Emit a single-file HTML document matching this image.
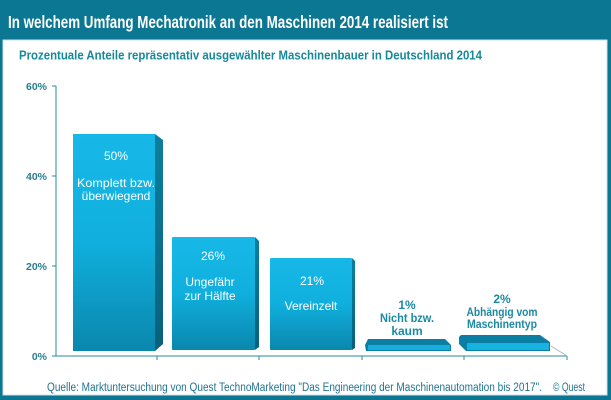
<!DOCTYPE html>
<html><head><meta charset="utf-8"><style>
html,body{margin:0;padding:0;background:#fff}
svg{display:block}
text{font-family:"Liberation Sans",sans-serif}
</style></head><body>
<svg width="611" height="400" viewBox="0 0 611 400" xmlns="http://www.w3.org/2000/svg">
<defs>
<linearGradient id="g1" x1="0" y1="0" x2="0" y2="1">
<stop offset="0" stop-color="#17b8e8"/>
<stop offset="0.5" stop-color="#10afdd"/>
<stop offset="1" stop-color="#0a87ad"/>
</linearGradient>
<linearGradient id="gs" x1="0" y1="0" x2="0" y2="1">
<stop offset="0" stop-color="#0c7f9e"/>
<stop offset="1" stop-color="#09607a"/>
</linearGradient>
</defs>
<rect x="0" y="0" width="611" height="400" fill="#0b7793"/>
<rect x="3" y="40" width="604" height="355" fill="#ffffff" stroke="#cfdfe4" stroke-width="1"/>
<text x="8" y="28" font-size="17.5" font-weight="bold" fill="#ffffff" textLength="440" lengthAdjust="spacingAndGlyphs">In welchem Umfang Mechatronik an den Maschinen 2014 realisiert ist</text>
<text x="19" y="59.5" font-size="13.3" font-weight="bold" fill="#17899b" textLength="463" lengthAdjust="spacingAndGlyphs">Prozentuale Anteile repräsentativ ausgewählter Maschinenbauer in Deutschland  2014</text>

<!-- axes -->
<g stroke="#2a8aa0" stroke-width="1">
<line x1="56" y1="86" x2="56" y2="356"/>
<line x1="56" y1="356" x2="567" y2="356"/>
<line x1="52" y1="86" x2="56" y2="86"/>
<line x1="52" y1="176" x2="56" y2="176"/>
<line x1="52" y1="266" x2="56" y2="266"/>
<line x1="52" y1="356" x2="56" y2="356"/>
<line x1="157" y1="356" x2="157" y2="360"/>
<line x1="259" y1="356" x2="259" y2="360"/>
<line x1="362" y1="356" x2="362" y2="360"/>
<line x1="464" y1="356" x2="464" y2="360"/>
<line x1="567" y1="356" x2="567" y2="360"/>
</g>
<line x1="551" y1="346" x2="567" y2="356" stroke="#a8b4b8" stroke-width="0.8"/>
<g font-size="10.5" fill="#2a7d90" text-anchor="end" font-weight="bold">
<text x="47" y="90">60%</text>
<text x="47" y="180">40%</text>
<text x="47" y="270">20%</text>
<text x="47" y="360">0%</text>
</g>

<!-- bar 1 -->
<polygon points="155,134 163,140 163,344 155,351" fill="url(#gs)"/>
<rect x="73" y="134" width="82" height="217" fill="url(#g1)"/>
<!-- bar 2 -->
<polygon points="255,237 259,241 259,347 255,350" fill="url(#gs)"/>
<rect x="172" y="237" width="83" height="113" fill="url(#g1)" rx="1"/>
<!-- bar 3 -->
<polygon points="352,258 355,261 355,348 352,350" fill="url(#gs)"/>
<rect x="270" y="258" width="82" height="92" fill="url(#g1)" rx="1"/>
<!-- bar 4 -->
<polygon points="368,339 445,339 451,345 451,351 366,351 365,345" fill="#0b7fa3"/>
<rect x="368" y="345" width="82" height="5" fill="#17aedb"/>
<!-- bar 5 -->
<polygon points="461,335 540,335 550,342 550,351 466,351 459,344 459,337" fill="#0b7fa3"/>
<rect x="467" y="343" width="82" height="7" fill="#17b3e0"/>

<!-- bar labels -->
<g font-size="12" fill="#ffffff" text-anchor="middle">
<text x="116" y="160">50%</text>
<text x="116" y="187" textLength="78" lengthAdjust="spacingAndGlyphs">Komplett bzw.</text>
<text x="116" y="200">überwiegend</text>
<text x="213" y="260">26%</text>
<text x="210" y="286">Ungefähr</text>
<text x="210" y="300">zur Hälfte</text>
<text x="312" y="285">21%</text>
<text x="311" y="310">Vereinzelt</text>
</g>
<g font-size="12" fill="#1b8aa3" text-anchor="middle" font-weight="bold">
<text x="407" y="309">1%</text>
<text x="407" y="322" textLength="54" lengthAdjust="spacingAndGlyphs">Nicht bzw.</text>
<text x="407" y="335">kaum</text>
<text x="502" y="303">2%</text>
<text x="502" y="316" textLength="71" lengthAdjust="spacingAndGlyphs">Abhängig vom</text>
<text x="502" y="328" textLength="70" lengthAdjust="spacingAndGlyphs">Maschinentyp</text>
</g>

<text x="47" y="391" font-size="11.5" fill="#1f7390" textLength="495" lengthAdjust="spacingAndGlyphs">Quelle: Marktuntersuchung von Quest TechnoMarketing "Das Engineering der Maschinenautomation bis 2017".</text>
<text x="553" y="391" font-size="11.5" fill="#1f7390" textLength="32" lengthAdjust="spacingAndGlyphs">© Quest</text>
</svg>
</body></html>
